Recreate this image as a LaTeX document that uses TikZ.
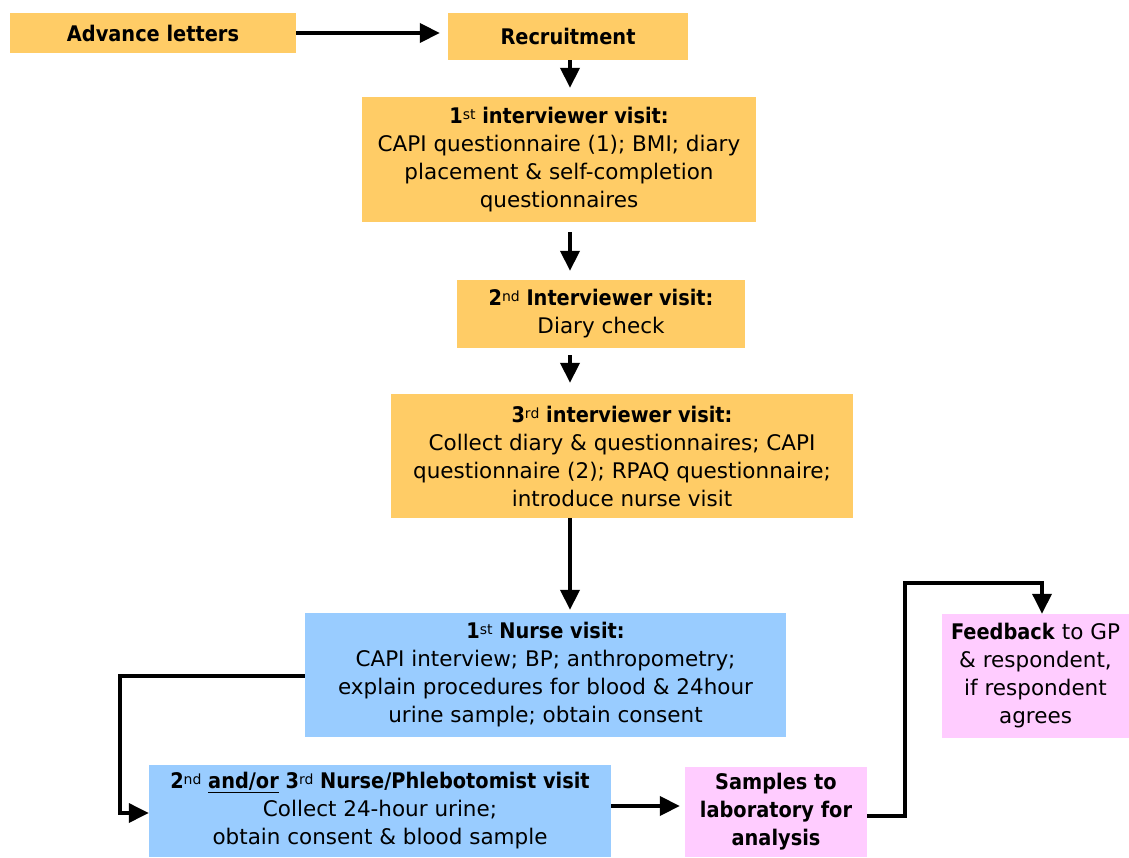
\documentclass[tikz,border=0pt]{standalone}
\usepackage{fontspec}
\setmainfont{DejaVu Sans}[BoldFeatures={FakeStretch=0.9}]
\usetikzlibrary{arrows.meta}
\definecolor{stepOrange}{RGB}{255,204,102}
\definecolor{stepBlue}{RGB}{153,204,255}
\definecolor{stepPink}{RGB}{255,204,255}
% small raised ordinal suffix, set in the regular weight
\newcommand{\sups}[1]{\raisebox{4pt}{\mdseries\fontsize{14}{14}\selectfont #1}}
\begin{document}
\begin{tikzpicture}[x=1pt,y=-1pt,
  stagebox/.style={inner sep=0pt, align=center, font=\fontsize{21.5}{28}\selectfont},
  interview/.style={stagebox, fill=stepOrange},
  nurse/.style={stagebox, fill=stepBlue},
  lab/.style={stagebox, fill=stepPink},
  conn/.style={line width=4pt, -{Triangle[length=20pt,width=19pt]}},
  elbow/.style={line width=3.5pt, -{Triangle[length=20pt,width=19pt]}}]
\useasboundingbox (0,0) rectangle (1129,858);

% interviewer stage
\node[interview, minimum width=286pt, minimum height=40pt] (adv) at (153,33)
  {\textbf{Advance letters}};
\node[interview, minimum width=240pt, minimum height=47pt] (rec) at (568,36.5)
  {\textbf{Recruitment}};
\node[interview, minimum width=394pt, minimum height=125pt] (int1) at (559,159.5)
  {\textbf{1\sups{st} interviewer visit:}\\CAPI questionnaire (1); BMI; diary\\placement \& self-completion\\questionnaires};
\node[interview, minimum width=288pt, minimum height=68pt] (int2) at (601,314)
  {\textbf{2\sups{nd} Interviewer visit:}\\Diary check};
\node[interview, minimum width=462pt, minimum height=124pt] (int3) at (622,456)
  {\textbf{3\sups{rd} interviewer visit:}\\Collect diary \& questionnaires; CAPI\\questionnaire (2); RPAQ questionnaire;\\introduce nurse visit};

% nurse stage
\node[nurse, minimum width=481pt, minimum height=124pt] (n1) at (545.5,675)
  {\textbf{1\sups{st} Nurse visit:}\\CAPI interview; BP; anthropometry;\\explain procedures for blood \& 24hour\\urine sample; obtain consent};
\node[nurse, minimum width=462pt, minimum height=92pt] (n2) at (380,811)
  {\textbf{2\sups{nd} \underline{and/or} 3\sups{rd} Nurse/Phlebotomist visit}\\Collect 24-hour urine;\\obtain consent \& blood sample};

% laboratory and feedback
\node[lab, minimum width=182pt, minimum height=90pt] (smp) at (776,812)
  {\textbf{Samples to}\\\textbf{laboratory for}\\\textbf{analysis}};
\node[lab, minimum width=187pt, minimum height=124pt] (fb) at (1035.5,676)
  {\textbf{Feedback} to GP\\\& respondent,\\if respondent\\agrees};
\coordinate (fbtop) at (1042,583);

% connectors
\draw[conn] (adv.east) -- ([xshift=-8pt]adv.east -| rec.west);
\draw[conn, shorten >=9pt] (rec.south -| 570,0) -- (int1.north -| 570,0);
\draw[conn, shorten <=10pt, shorten >=9pt] (int1.south -| 570,0) -- (int2.north -| 570,0);
\draw[conn, shorten <=7pt, shorten >=11pt] (int2.south -| 570,0) -- (int3.north -| 570,0);
\draw[conn, shorten >=3pt] (int3.south -| 570,0) -- (n1.north -| 570,0);
\draw[elbow] ([yshift=-1pt]n1.west) -- ++(-185,0) |- ([yshift=-2pt]n2.west);
\draw[conn, shorten >=5pt] ([yshift=5pt]n2.east) -- ([yshift=5pt]n2.east -| smp.west);
\draw[elbow] ([yshift=-4pt]smp.east) -- ++(38,0) |- (fbtop) -- (fbtop |- fb.north);
\end{tikzpicture}
\end{document}
